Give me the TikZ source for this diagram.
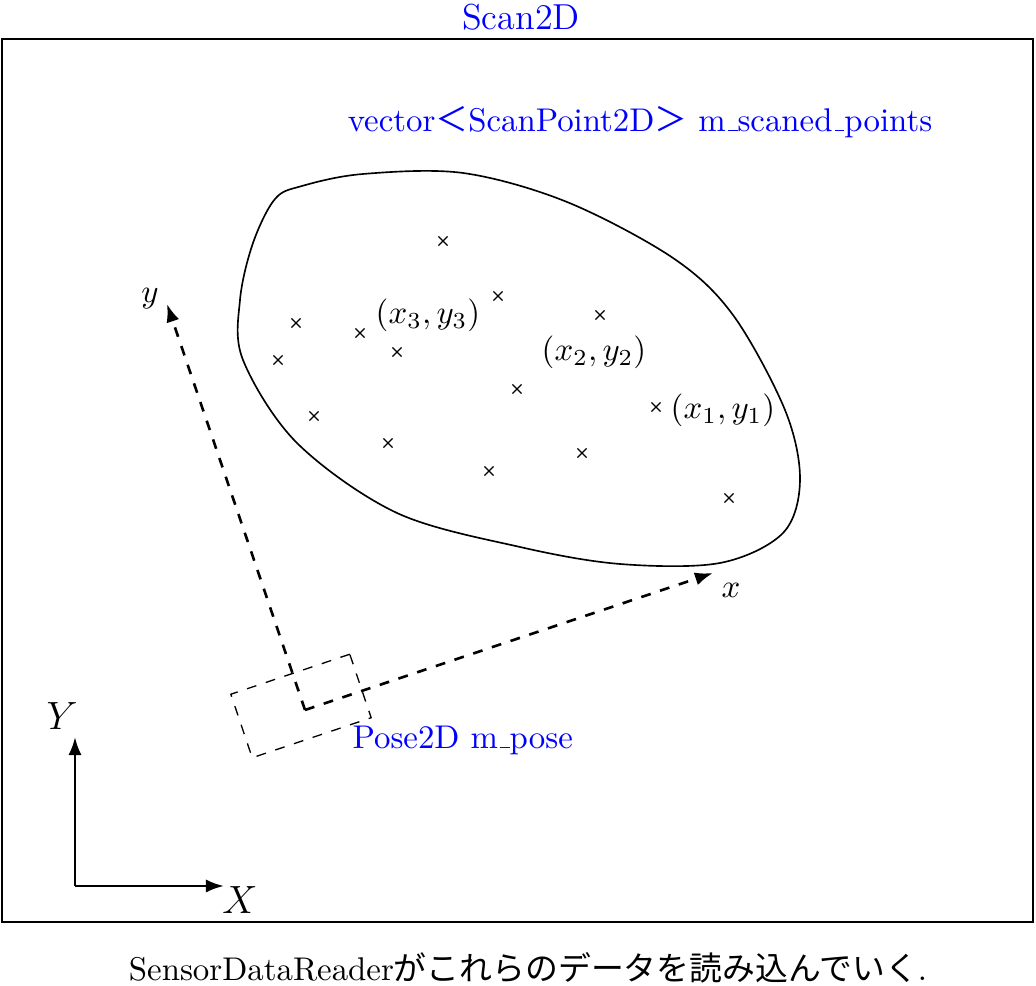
\documentclass[tikz,border=0pt]{standalone}
\usepackage{fontspec}
\newfontfamily\jpfont{Noto Sans CJK JP}
\usetikzlibrary{arrows.meta, shapes.misc}
\newcommand{\ubar}{\leavevmode\kern.06em\vbox{\hrule width.3em}}

\begin{document}
\begin{tikzpicture}[x=0.3044pt, y=-0.3044pt,
    bluetext/.style={text=blue, inner sep=0pt},
    scanpt/.style={cross out, draw, line width=0.35pt, inner sep=0pt, minimum size=2.4pt},
    worldaxis/.style={thick, -{Latex[length=5.5pt, width=4pt]}},
    poseaxis/.style={thick, dashed, -{Latex[length=5.5pt, width=4pt]}}]
    \useasboundingbox (0,0) rectangle (1036,986);

    % 外框
    \draw[thick] (2,39) rectangle (1033,922);
    \node[bluetext, font=\fontsize{11}{13}\selectfont] (scan) at (521,17) {Scan2D};
    \node[bluetext] (vec) at (640,122)
        {vector{\jpfont ＜}ScanPoint2D{\jpfont ＞} m\ubar scaned\ubar points};

    % 点群の領域
    \draw[line width=0.5pt] plot[smooth cycle, tension=0.55] coordinates {
        (302,186) (363,174) (463,173) (567,202) (673,258) (733,315) (785,410)
        (800,480) (783,533) (720,563) (620,564) (520,547) (397,513) (297,443)
        (243,360) (240,300) (253,243) (275,199)};

    % 計測点
    \foreach \x/\y [count=\i] in {443/241, 498/296, 600/315, 296/323, 360/333, 397/352,
        278/360, 517/389, 656/407, 314/416, 388/443, 489/471, 582/453, 729/498} {
        \node[scanpt] (p\i) at (\x,\y) {};
    }
    \node (l3) at (428,315) {$(x_3,y_3)$};
    \node (l2) at (594,352) {$(x_2,y_2)$};
    \node (l1) at (723,410) {$(x_1,y_1)$};

    % センサ座標系
    \coordinate (O) at (305,710);
    \coordinate (xtip) at (713,573);
    \coordinate (ytip) at (167,304);
    \draw[poseaxis] (O) -- (xtip);
    \draw[poseaxis] (O) -- (ytip);
    \node (xl) at (731,590) {$x$};
    \node (yl) at (150,299) {$y$};
    \node[draw, dashed, thin, rotate=18.6, minimum width=38.2pt, minimum height=20.4pt,
        inner sep=0pt] (pose) at (301,706) {};
    \node[bluetext, anchor=west] (posel) at (352,740) {Pose2D m\ubar pose};

    % 世界座標系
    \coordinate (W) at (75,886);
    \coordinate (Wx) at (224,886);
    \coordinate (Wy) at (75,737);
    \draw[worldaxis] (W) -- (Wx);
    \draw[worldaxis] (W) -- (Wy);
    \node[font=\large] (Xl) at (240,900) {$X$};
    \node[font=\large] (Yl) at (62,716) {$Y$};

    \node (cap) at (528,968) {SensorDataReader{\jpfont がこれらのデータを読み込んでいく}.};
\end{tikzpicture}
\end{document}
